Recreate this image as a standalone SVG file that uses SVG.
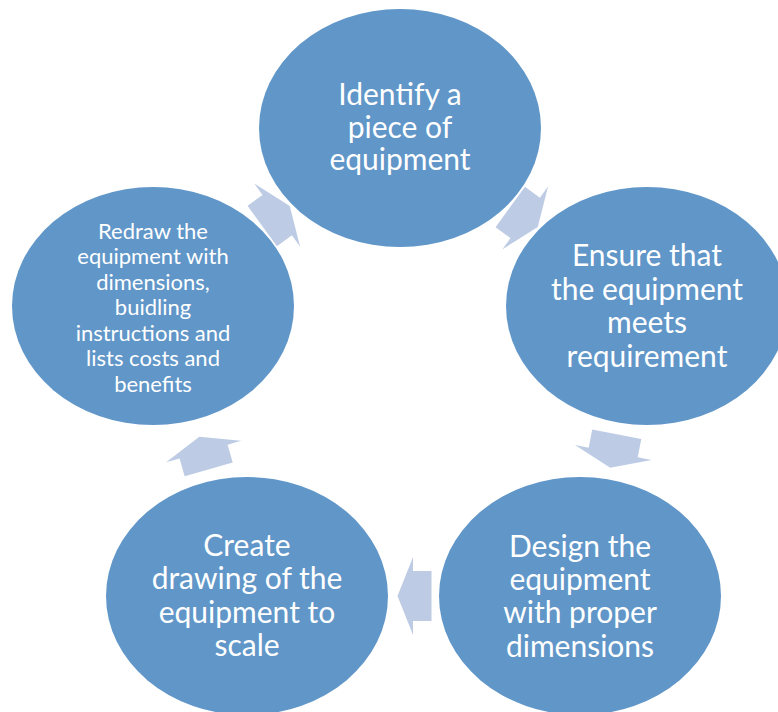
<svg xmlns="http://www.w3.org/2000/svg" width="778" height="712" viewBox="0 0 778 712">
  <style>
    .node { fill: #6096C8; }
    .arrow { fill: #BDCCE4; }
    .lbl { font-family: Lato, "Liberation Sans", sans-serif; fill: #FFFFFF; text-anchor: middle; font-size: 30px; }
    .small { font-size: 22px; }
  </style>
  <defs>
    <path id="arr" d="M-17,-25 L1.5,-25 L1.5,-39 L17,0 L1.5,39 L1.5,25 L-17,25 Z"/>
  </defs>
  <rect width="778" height="712" fill="#FFFFFF"/>
  <g id="connectors">
    <use href="#arr" class="arrow" transform="translate(524,217) rotate(36)"/>
    <use href="#arr" class="arrow" transform="translate(613.5,451) rotate(101)"/>
    <use href="#arr" class="arrow" transform="translate(414.5,596) rotate(180)"/>
    <use href="#arr" class="arrow" transform="translate(204,453) rotate(254)"/>
    <use href="#arr" class="arrow" transform="translate(276,216) rotate(324)"/>
  </g>
  <g id="node-identify">
    <ellipse class="node" cx="400" cy="128" rx="141" ry="119"/>
    <text class="lbl" x="400" y="105">Identify a</text>
    <text class="lbl" x="400" y="137.5">piece of</text>
    <text class="lbl" x="400" y="170">equipment</text>
  </g>
  <g id="node-ensure">
    <ellipse class="node" cx="647" cy="306" rx="141" ry="119"/>
    <text class="lbl" x="647" y="266">Ensure that</text>
    <text class="lbl" x="647" y="299.5">the equipment</text>
    <text class="lbl" x="647" y="333">meets</text>
    <text class="lbl" x="647" y="366.5">requirement</text>
  </g>
  <g id="node-design">
    <ellipse class="node" cx="580" cy="596" rx="141" ry="119"/>
    <text class="lbl" x="580" y="556.5">Design the</text>
    <text class="lbl" x="580" y="589.8">equipment</text>
    <text class="lbl" x="580" y="623">with proper</text>
    <text class="lbl" x="580" y="656.5">dimensions</text>
  </g>
  <g id="node-create">
    <ellipse class="node" cx="247" cy="596" rx="141" ry="119"/>
    <text class="lbl" x="247" y="556">Create</text>
    <text class="lbl" x="247" y="589.3">drawing of the</text>
    <text class="lbl" x="247" y="622.7">equipment to</text>
    <text class="lbl" x="247" y="656">scale</text>
  </g>
  <g id="node-redraw">
    <ellipse class="node" cx="153" cy="306" rx="141" ry="119"/>
    <text class="lbl small" x="153" y="238.5">Redraw the</text>
    <text class="lbl small" x="153" y="264">equipment with</text>
    <text class="lbl small" x="153" y="289.5">dimensions,</text>
    <text class="lbl small" x="153" y="315">buidling</text>
    <text class="lbl small" x="153" y="340.5">instructions and</text>
    <text class="lbl small" x="153" y="366">lists costs and</text>
    <text class="lbl small" x="153" y="391.5">benefits</text>
  </g>
</svg>
